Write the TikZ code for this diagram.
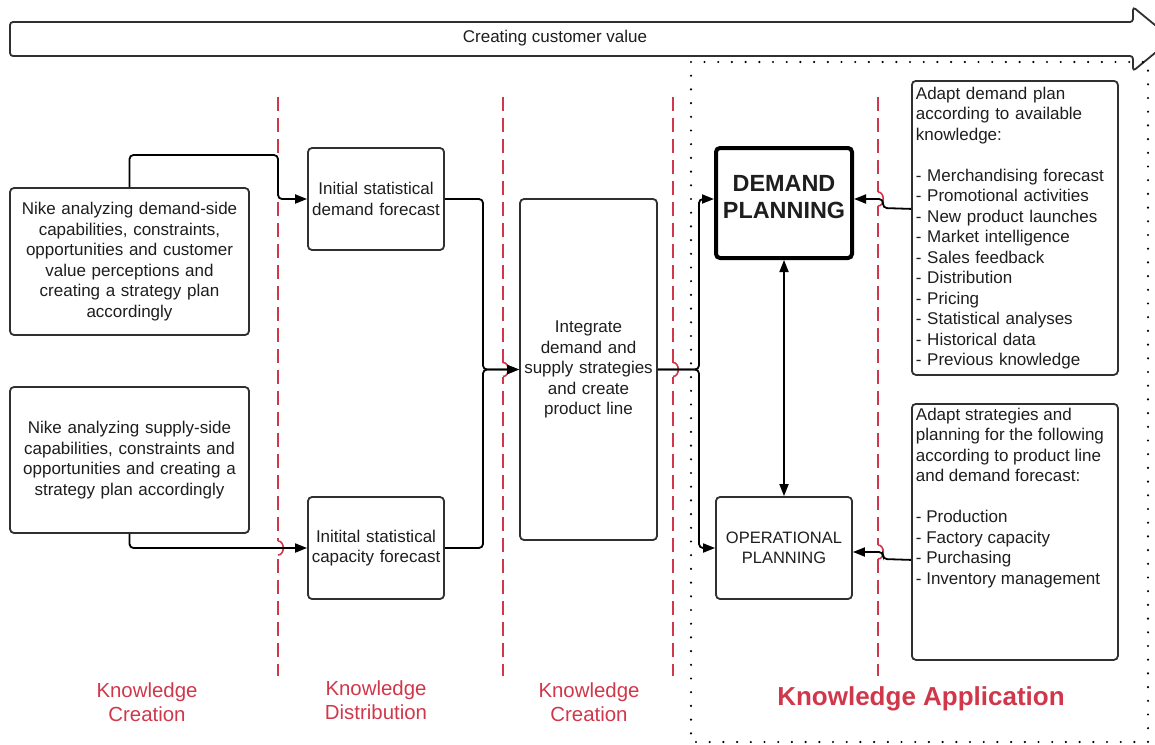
\documentclass[tikz,border=0pt]{standalone}
\usepackage{fontspec}
\setmainfont{Liberation Sans}
\usetikzlibrary{arrows.meta,calc}
\definecolor{kred}{HTML}{D0374A}
\definecolor{boxline}{HTML}{303030}
\definecolor{txt}{HTML}{1E1E1E}
\begin{document}
\begin{tikzpicture}[x=1pt,y=-1pt,
  box/.style={draw=boxline, line width=1.8pt, rounded corners=4pt, fill=white, align=center, inner sep=2pt, text=txt, font=\fontsize{17}{20.5}\selectfont},
  tip/.tip={Triangle[length=12pt,width=9pt]},
  conn/.style={draw=black, line width=1.8pt, rounded corners=4pt, -tip},
  link/.style={draw=black, line width=1.8pt, rounded corners=4pt},
  sepline/.style={draw=kred, line width=1.6pt, dash pattern=on 14pt off 7pt},
  hop/.style={draw=kred, line width=1.6pt},
  lab/.style={text=kred, align=center, font=\fontsize{20.4}{24}\selectfont}]
\useasboundingbox (0,0) rectangle (1155,744);
\clip (0,0) rectangle (1155,744);

% big arrow
\draw[line width=1.8pt, draw=boxline, fill=white, rounded corners=3pt]
  (10,22) -- (1133,22) -- (1133,7) -- (1172,39) -- (1133,71) -- (1133,56) -- (10,56) -- cycle;
\node[text=txt, font=\fontsize{17}{20.5}\selectfont] (cv) at (555,38) {Creating customer value};

% dotted region
\draw[line width=2.4pt, dash pattern=on 0pt off 13.7pt, line cap=round] (691,62) rectangle (1148,742);

% red separators
\foreach \sx in {278,503,673,878} {
  \draw[sepline] (\sx,97) -- (\sx,676);
}
\foreach \hx/\hy in {278/548, 503/369.5, 673/369.5, 878/199, 878/552} {
  \fill[white] (\hx-2,\hy-7) rectangle (\hx+8,\hy+7);
  \draw[hop] (\hx,\hy-7) .. controls (\hx+7,\hy-7) and (\hx+7,\hy+7) .. (\hx,\hy+7);
}

% boxes
\node[box, minimum width=239pt, minimum height=147pt, text width=230pt] (n1) at (129.5,261.5)
  {Nike analyzing demand-side\\capabilities, constraints,\\opportunities and customer\\value perceptions and\\creating a strategy plan\\accordingly};
\node[box, minimum width=239pt, minimum height=146pt, text width=230pt] (n2) at (129.5,460)
  {Nike analyzing supply-side\\capabilities, constraints and\\opportunities and creating a\\strategy plan accordingly};
\node[box, minimum width=136pt, minimum height=102pt, text width=134pt, inner xsep=1pt] (df) at (376,199)
  {Initial statistical\\demand forecast};
\node[box, minimum width=136pt, minimum height=102pt, text width=134pt, inner xsep=1pt] (cf) at (376,548)
  {Initital statistical\\capacity forecast};
\node[box, minimum width=137pt, minimum height=341pt, text width=135pt, inner xsep=1pt] (ig) at (588.5,369.5)
  {Integrate\\demand and\\supply strategies\\and create\\product line};
\node[box, draw=black, line width=4pt, minimum width=136pt, minimum height=110pt, font=\bfseries\fontsize{23.4}{27}\selectfont] (dp) at (784,203)
  {DEMAND\\PLANNING\\[-14pt]\mbox{}};
\node[box, minimum width=136pt, minimum height=102pt, font=\fontsize{16.5}{20.5}\selectfont] (op) at (784,548)
  {OPERATIONAL\\PLANNING};
\node[box, align=left, anchor=north west, minimum width=205pt, minimum height=294pt, text width=198pt, inner xsep=4pt] (r1) at (911,80)
  {Adapt demand plan\\according to available\\knowledge:\\[20.5pt]- Merchandising forecast\\- Promotional activities\\- New product launches\\- Market intelligence\\- Sales feedback\\- Distribution\\- Pricing\\- Statistical analyses\\- Historical data\\- Previous knowledge};
\node[box, align=left, anchor=north west, minimum width=205pt, minimum height=256pt, inner xsep=4pt, inner ysep=3pt] (r2) at (911,403)
  {\begin{minipage}[t][248pt][t]{198pt}\raggedright
   Adapt strategies and\\planning for the following\\according to product line\\and demand forecast:\\[20.5pt]- Production\\- Factory capacity\\- Purchasing\\- Inventory management\end{minipage}};

% connectors
\draw[conn] (n1.north) |- (278,155) |- (df.west);
\draw[conn] (n2.south) |- (cf.west);
\draw[conn] (df.east) -- (483,199) |- (ig.west);
\draw[conn] (cf.east) -- (483,548) |- (ig.west);
\draw[conn] (ig.east) -- (699,369.5) |- ([yshift=4pt]dp.west);
\draw[conn] (ig.east) -- (699,369.5) |- (op.west);
\draw[draw=black, line width=1.8pt, tip-tip] (dp.south) -- (op.north);
\draw[conn] ([yshift=19pt]r1.west) -- (883,208) |- ([yshift=4pt]dp.east);
\draw[conn] ([yshift=-28pt]r2.west) -- (883,559) |- ([yshift=-4pt]op.east);

% phase labels
\node[lab] (kc1) at (147,702) {Knowledge\\Creation};
\node[lab] (kd) at (376,700) {Knowledge\\Distribution};
\node[lab] (kc2) at (589,702) {Knowledge\\Creation};
\node[text=kred, font=\bfseries\fontsize{26}{30}\selectfont] (ka) at (921,699) {Knowledge Application};
\end{tikzpicture}
\end{document}
